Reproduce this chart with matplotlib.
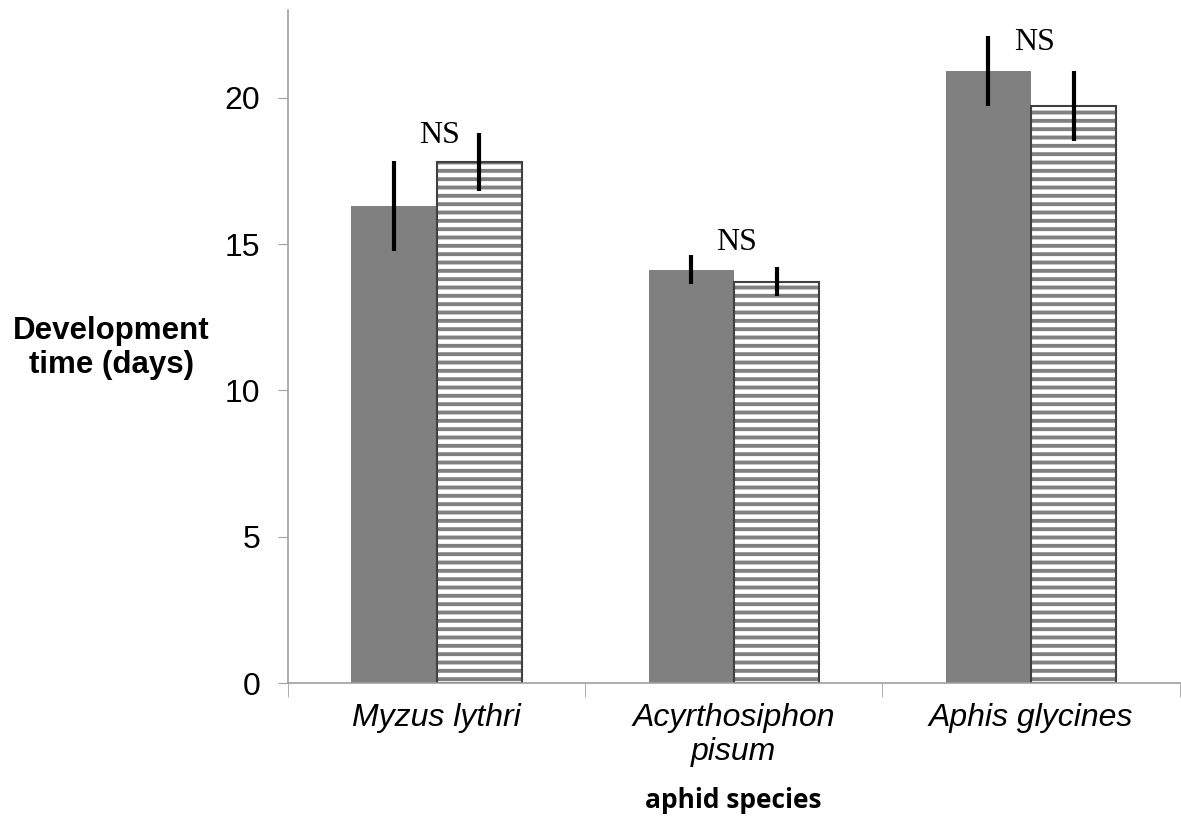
import matplotlib.pyplot as plt
import numpy as np

species = ["Myzus lythri", "Acyrthosiphon\npisum", "Aphis glycines"]
solid_vals = [16.3, 14.13, 20.9]
solid_err = [1.55, 0.5, 1.2]
striped_vals = [17.8, 13.72, 19.72]
striped_err = [1.0, 0.5, 1.2]
ns_y = [18.7, 15.05, 21.88]


def main():
    plt.rcParams["hatch.linewidth"] = 2.8
    plt.rcParams["font.family"] = ["Liberation Sans", "DejaVu Sans"]

    fig = plt.figure(figsize=(11.81, 8.25), dpi=100)
    ax = fig.add_axes([0.2439, 0.172, 0.755, 0.816])

    x = np.arange(len(species))
    w = 0.287
    ax.bar(x - w / 2, solid_vals, w, color="#808080", linewidth=0)
    # hatch takes the edge colour, so draw the outline as a second bar
    ax.bar(x + w / 2, striped_vals, w, color="white", edgecolor="#808080",
           linewidth=0, hatch="--")
    ax.bar(x + w / 2, striped_vals, w, fill=False, edgecolor="#404040",
           linewidth=1.5)
    ax.errorbar(x - w / 2, solid_vals, yerr=solid_err, fmt="none",
                ecolor="black", elinewidth=3, capsize=0)
    ax.errorbar(x + w / 2, striped_vals, yerr=striped_err, fmt="none",
                ecolor="black", elinewidth=3, capsize=0)

    for xi, yi in zip(x, ns_y):
        ax.text(xi + 0.01, yi, "NS", ha="center", va="center", fontsize=23,
                family="Liberation Serif")

    ax.set_xlim(-0.5, 2.5)
    ax.set_ylim(0, 23)
    ax.set_yticks([0, 5, 10, 15, 20])
    ax.tick_params(axis="y", labelsize=23, length=7, color="#A0A0A0", pad=13)
    ax.set_xticks(x)
    ax.set_xticklabels(species, fontsize=23, style="italic")
    ax.set_xticks([-0.5, 0.5, 1.5, 2.5], minor=True)
    ax.tick_params(axis="x", which="major", length=0, pad=14)
    ax.tick_params(axis="x", which="minor", length=10, color="#A0A0A0")

    for s in ["top", "right"]:
        ax.spines[s].set_visible(False)
    for s in ["left", "bottom"]:
        ax.spines[s].set_color("#A0A0A0")
        ax.spines[s].set_linewidth(1.2)

    fig.text(0.621, 0.030, "aphid species", ha="center", va="center",
             fontsize=19, fontweight="bold", family="Open Sans")
    fig.text(0.094, 0.578, "Development\ntime (days)", ha="center",
             va="center", fontsize=22.5, fontweight="bold", linespacing=1.2)

    fig.savefig("out.png", dpi=100)


if __name__ == "__main__":
    main()
